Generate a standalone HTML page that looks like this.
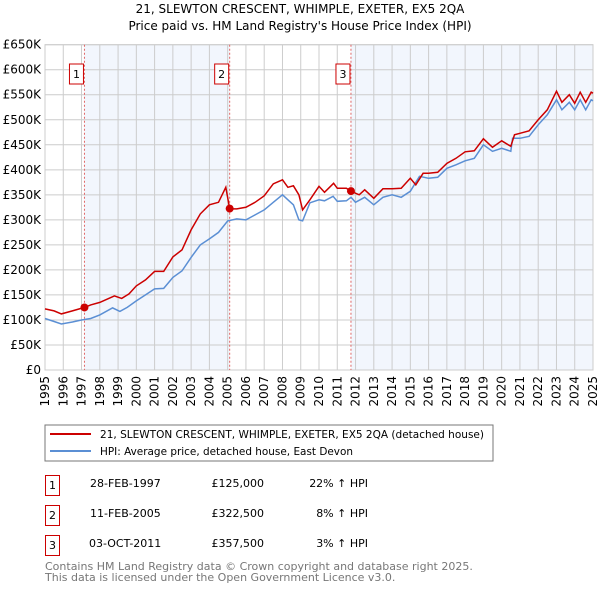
<!DOCTYPE html>
<html><head><meta charset="utf-8"><style>
body{margin:0;background:#fff;font-family:"DejaVu Sans","Liberation Sans",sans-serif;}
svg text{font-family:"DejaVu Sans","Liberation Sans",sans-serif;}
</style></head><body>
<svg id="c" width="600" height="590" xmlns="http://www.w3.org/2000/svg">
<text x="300" y="13" text-anchor="middle" font-size="12">21, SLEWTON CRESCENT, WHIMPLE, EXETER, EX5 2QA</text>
<text x="300" y="30" text-anchor="middle" font-size="12">Price paid vs. HM Land Registry's House Price Index (HPI)</text>
<g id="plot"></g>
<rect x="45" y="425" width="448" height="36" fill="#fff" stroke="#777"/>
<line x1="50" y1="434" x2="91" y2="434" stroke="#cc0000" stroke-width="2"/>
<text x="100" y="438" font-size="11" textLength="384" lengthAdjust="spacingAndGlyphs">21, SLEWTON CRESCENT, WHIMPLE, EXETER, EX5 2QA (detached house)</text>
<line x1="50" y1="451" x2="91" y2="451" stroke="#5b8fd4" stroke-width="2"/>
<text x="100" y="455" font-size="11" textLength="253" lengthAdjust="spacingAndGlyphs">HPI: Average price, detached house, East Devon</text>
<g font-size="11">
<rect x="45.5" y="475.5" width="14" height="20" fill="none" stroke="#cc0000"/><text x="52.5" y="489" text-anchor="middle">1</text>
<text x="90" y="487">28-FEB-1997</text><text x="264" y="487" text-anchor="end">£125,000</text><text x="368" y="487" text-anchor="end">22% ↑ HPI</text>
<rect x="45.5" y="505.5" width="14" height="20" fill="none" stroke="#cc0000"/><text x="52.5" y="519" text-anchor="middle">2</text>
<text x="90" y="517">11-FEB-2005</text><text x="264" y="517" text-anchor="end">£322,500</text><text x="368" y="517" text-anchor="end">8% ↑ HPI</text>
<rect x="45.5" y="535.5" width="14" height="20" fill="none" stroke="#cc0000"/><text x="52.5" y="549" text-anchor="middle">3</text>
<text x="89" y="547">03-OCT-2011</text><text x="264" y="547" text-anchor="end">£357,500</text><text x="368" y="547" text-anchor="end">3% ↑ HPI</text>
</g>
<text x="45" y="570" font-size="11" fill="#777">Contains HM Land Registry data © Crown copyright and database right 2025.</text>
<text x="45" y="581" font-size="11" fill="#777">This data is licensed under the Open Government Licence v3.0.</text>
</svg>
<script>
const yTicks=[0,50,100,150,200,250,300,350,400,450,500,550,600,650];
const yLabels=["£0","£50K","£100K","£150K","£200K","£250K","£300K","£350K","£400K","£450K","£500K","£550K","£600K","£650K"];
const years=[1995,1996,1997,1998,1999,2000,2001,2002,2003,2004,2005,2006,2007,2008,2009,2010,2011,2012,2013,2014,2015,2016,2017,2018,2019,2020,2021,2022,2023,2024,2025];
const hpiT=[1995,1995.5,1995.9,1996.5,1997,1997.5,1998,1998.7,1999.1,1999.5,2000,2000.5,2001,2001.5,2002,2002.5,2003,2003.5,2004,2004.5,2005,2005.5,2006,2006.5,2007,2007.5,2008,2008.3,2008.6,2008.9,2009.1,2009.5,2010,2010.3,2010.77,2011,2011.5,2011.75,2012,2012.5,2013,2013.5,2014,2014.5,2015,2015.5,2016,2016.5,2017,2017.5,2018,2018.5,2019,2019.5,2020,2020.5,2020.6,2021,2021.5,2022,2022.5,2023,2023.3,2023.7,2024,2024.3,2024.6,2024.9,2025];
const hpiV=[103,97,92,96,100,103,110,124,117,125,138,150,162,163,185,198,225,250,262,275,298,302,300,310,320,335,350,340,330,300,298,334,340,338,347,337,338,345,335,345,330,345,350,345,357,387,383,385,403,410,418,423,450,437,443,437,463,463,467,490,510,540,520,535,520,540,520,540,538];
const ppT=[1995,1995.5,1995.9,1996.5,1997.16,1997.5,1998,1998.8,1999.2,1999.6,2000,2000.5,2001,2001.5,2002,2002.5,2003,2003.5,2004,2004.5,2004.9,2005.11,2005.5,2006,2006.5,2007,2007.5,2008,2008.3,2008.6,2008.9,2009.1,2009.5,2010,2010.3,2010.8,2011,2011.5,2011.75,2012.2,2012.5,2013,2013.5,2014,2014.5,2015,2015.3,2015.7,2016,2016.5,2017,2017.5,2018,2018.5,2019,2019.5,2020,2020.5,2020.7,2021,2021.5,2022,2022.5,2023,2023.3,2023.7,2024,2024.3,2024.6,2024.9,2025];
const ppV=[122,118,112,118,125,130,135,148,143,152,168,180,197,197,226,240,280,312,330,335,365,322,322,325,335,348,372,380,365,368,350,320,340,367,355,373,363,363,357,350,360,343,362,362,363,383,370,393,393,395,413,423,436,438,462,445,458,447,470,473,478,500,520,557,535,550,533,555,535,555,553];
const sales=[[1997.16,125],[2005.11,322.5],[2011.75,357.5]];
const L=45,R=593,T=44.7,B=370;
const X=t=>L+(t-1995)/30*(R-L);
const Y=v=>B-v/650*(B-T);
const NS="http://www.w3.org/2000/svg";
const g=document.getElementById('plot');
function mk(tag,a,p){const e=document.createElementNS(NS,tag);for(const k in a)e.setAttribute(k,a[k]);(p||g).appendChild(e);return e;}
let s1=mk('rect',{x:X(sales[0][0]),y:T,width:X(sales[1][0])-X(sales[0][0]),height:B-T,fill:'#f2f6fd'});


let s2=mk('rect',{x:X(sales[2][0]),y:T,width:R-X(sales[2][0]),height:B-T,fill:'#f2f6fd'});


yTicks.forEach((v,i)=>{
 let l=mk('line',{x1:L,x2:R,y1:Y(v),y2:Y(v),stroke:'#ccc'});
 
 
 let t=mk('text',{x:L-4,y:Y(v)+4,'text-anchor':'end','font-size':'12'});t.textContent=yLabels[i];
 
 
});
years.forEach(y=>{
 let l=mk('line',{x1:X(y),x2:X(y),y1:T,y2:B,stroke:'#ccc'});
 
 
 let t=mk('text',{x:0,y:0,'font-size':'12','text-anchor':'end',transform:`translate(${X(y)+4},${B+6}) rotate(-90)`});t.textContent=y;
 
 
});
let fr=mk('rect',{x:L,y:T,width:R-L,height:B-T,fill:'none',stroke:'#ccc'});


sales.forEach((s,i)=>{
 let l=mk('line',{x1:X(s[0]),x2:X(s[0]),y1:T,y2:B,stroke:'#e06666','stroke-dasharray':'2,2'});
 
 
 let r=mk('rect',{x:X(s[0])-15,y:64,width:14,height:20,fill:'#fff',stroke:'#cc0000'});
 
 
 let t=mk('text',{x:X(s[0])-8,y:78,'text-anchor':'middle','font-size':'11'});t.textContent=String(i+1);
 
 
});
function path(ts,vs){return ts.map((t,i)=>(i?'L':'M')+X(t).toFixed(1)+','+Y(vs[i]).toFixed(1)).join('');}
let hp=mk('path',{d:path(hpiT,hpiV),fill:'none',stroke:'#5b8fd4','stroke-width':1.5});


let pp=mk('path',{d:path(ppT,ppV),fill:'none',stroke:'#cc0000','stroke-width':1.5});


sales.forEach(s=>{
 let c=mk('circle',{cx:X(s[0]),cy:Y(s[1]),r:4,fill:'#cc0000'});
 
 
});
</script>
</body></html>
